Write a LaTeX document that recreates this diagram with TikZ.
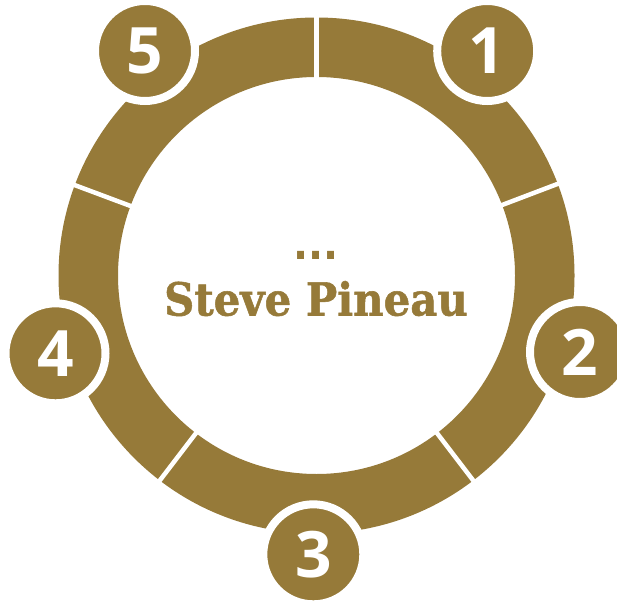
\documentclass[tikz,border=0pt]{standalone}
\usepackage{fontspec}
\usetikzlibrary{calc}
\newfontfamily\numfont{Open Sans}[BoldFont={* Bold}]
\newfontfamily\slabfont{DejaVu Serif}[BoldFeatures={FakeBold=1.2}]
\newfontfamily\dotfont{DejaVu Sans}
\definecolor{gold}{RGB}{150,122,57}
\begin{document}
\begin{tikzpicture}[x=1pt,y=1pt,
  numcircle/.style={circle, fill=gold, draw=white, line width=8pt,
    minimum size=100pt, inner sep=0pt, text=white,
    font=\numfont\bfseries\fontsize{64}{64}\selectfont},
  gapline/.style={white, line width=4.5pt},
  nametext/.style={text=gold, inner sep=0pt, anchor=base,
    font=\slabfont\bfseries\fontsize{45.5}{45.5}\selectfont},
  dotstext/.style={text=gold, inner sep=0pt, anchor=base,
    font=\dotfont\bfseries\fontsize{43}{43}\selectfont}]
\useasboundingbox (0,0) rectangle (617,603);
\coordinate (C) at (316.5,327.5);
% ring
\fill[gold, even odd rule] (C) circle (258) (C) circle (198.5);
% gaps between segments
\foreach \a in {90,20.8,-52.6,-127.4,159.5}
  \draw[gapline] ($(C)+(\a:190)$) -- ($(C)+(\a:266)$);
% numbered circles
\node[numcircle] (n1) at (487.2,552) {\raisebox{-1.5pt}{1}};
\node[numcircle] (n2) at (580,251) {\raisebox{-1.5pt}{2}};
\node[numcircle] (n3) at (313.3,48.7) {\raisebox{-1.5pt}{3}};
\node[numcircle] (n4) at (55.5,249.7) {\raisebox{-1.5pt}{4}};
\node[numcircle] (n5) at (145,552) {\raisebox{-1.5pt}{5}};
% centre text
\node[dotstext] (dots) at (316.3,344) {\scalebox{0.92}[1]{...}};
\node[nametext] (name) at (316,287.5) {\scalebox{0.92}[1]{Steve Pineau}};
\end{tikzpicture}
\end{document}
